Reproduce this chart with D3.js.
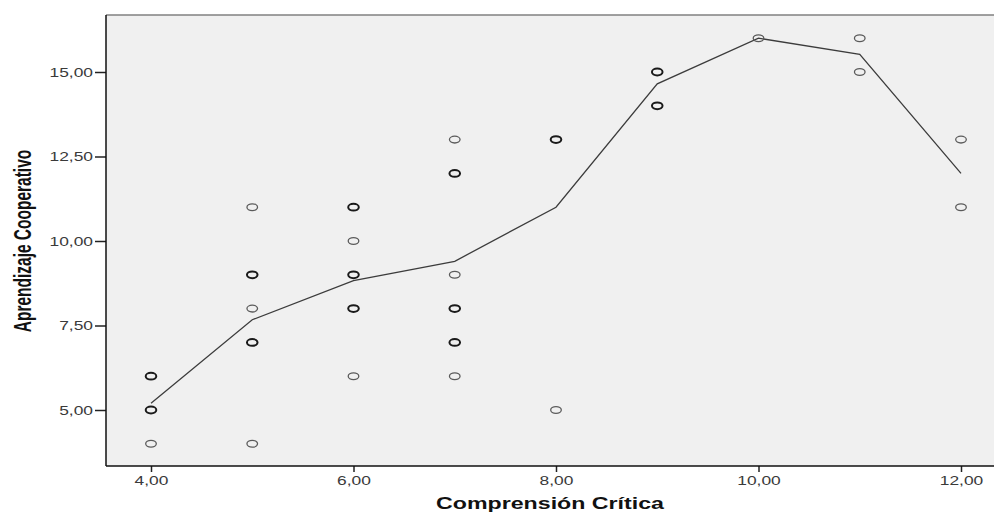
<!DOCTYPE html>
<html>
<head>
<meta charset="utf-8">
<script src="https://cdn.jsdelivr.net/npm/d3@7"></script>
<style>
  body { margin: 0; background: #fff; }
  svg { display: block; }
</style>
</head>
<body>
<svg width="994" height="514"></svg>
<script>
// scatter points (Comprensión Crítica, Aprendizaje Cooperativo, number of cases)
const pointX = [4, 4, 4, 5, 5, 5, 5, 5, 6, 6, 6, 6, 6, 7, 7, 7, 7, 7, 7, 8, 8, 9, 9, 10, 11, 11, 12, 12];
const pointY = [6, 5, 4, 11, 9, 8, 7, 4, 11, 10, 9, 8, 6, 13, 12, 9, 8, 7, 6, 13, 5, 15, 14, 16, 16, 15, 13, 11];
const pointN = [2, 2, 1, 1, 2, 1, 2, 1, 2, 1, 2, 2, 1, 1, 2, 1, 2, 2, 1, 2, 1, 2, 2, 1, 1, 1, 1, 1];

// fit line (mean per x value)
const lineX = [4, 5, 6, 7, 8, 9, 10, 11, 12];
const lineY = [5.2, 7.67, 8.83, 9.4, 11.0, 14.65, 16.0, 15.52, 12.0];

const xTicks = [4, 6, 8, 10, 12];
const yTicks = [5, 7.5, 10, 12.5, 15];

const points = pointX.map((x, i) => ({ x: x, y: pointY[i], n: pointN[i] }));
const linePts = lineX.map((x, i) => ({ x: x, y: lineY[i] }));

const canvas = d3.select("svg");

const plotLeft = 106;
const plotTop = 15;
const plotBottom = 466;
const plotRight = 1000;
const stretch = 1.45;

const xScale = d3.scaleLinear().domain([4, 12]).range([151, 961]);
const yScale = d3.scaleLinear().domain([5, 15]).range([410, 72]);

const fmt = (d) => d3.format(".2f")(d).replace(".", ",");

// plot background
canvas
  .append("rect")
  .attr("x", plotLeft)
  .attr("y", plotTop)
  .attr("width", plotRight - plotLeft)
  .attr("height", plotBottom - plotTop)
  .attr("fill", "#f0f0f0");

// top border
canvas
  .append("line")
  .attr("x1", plotLeft)
  .attr("x2", plotRight)
  .attr("y1", plotTop)
  .attr("y2", plotTop)
  .attr("stroke", "#808080")
  .attr("stroke-width", 1.5);

// axes
const xAxis = d3.axisBottom(xScale).tickValues(xTicks).tickFormat(fmt).tickSize(6).tickSizeOuter(0);
const yAxis = d3.axisLeft(yScale).tickValues(yTicks).tickFormat(fmt).tickSize(11).tickSizeOuter(0);

const gx = canvas
  .append("g")
  .attr("transform", `translate(0, ${plotBottom})`)
  .call(xAxis);

const gy = canvas
  .append("g")
  .attr("transform", `translate(${plotLeft}, 0)`)
  .call(yAxis);

gx.select(".domain").remove();
gy.select(".domain").remove();

canvas
  .append("line")
  .attr("x1", plotLeft)
  .attr("x2", plotRight)
  .attr("y1", plotBottom)
  .attr("y2", plotBottom)
  .attr("stroke", "#111")
  .attr("stroke-width", 1.5);

canvas
  .append("line")
  .attr("x1", plotLeft)
  .attr("x2", plotLeft)
  .attr("y1", plotTop)
  .attr("y2", plotBottom)
  .attr("stroke", "#111")
  .attr("stroke-width", 1.5);

gx.selectAll(".tick line").attr("stroke", "#222").attr("stroke-width", 1.5);
gy.selectAll(".tick line").attr("stroke", "#222").attr("stroke-width", 1.5);

gx.selectAll(".tick text")
  .attr("y", 0)
  .attr("dy", 0)
  .attr("transform", `translate(0, 18.5) scale(${stretch}, 1)`)
  .attr("font-family", "'Liberation Sans', Arial, sans-serif")
  .attr("font-size", 12)
  .attr("fill", "#3a3a3a");

gy.selectAll(".tick text")
  .attr("x", 0)
  .attr("dy", "0.36em")
  .attr("transform", `translate(-13, 0) scale(${stretch}, 1)`)
  .attr("font-family", "'Liberation Sans', Arial, sans-serif")
  .attr("font-size", 12)
  .attr("fill", "#3a3a3a");

// fit line
const line = d3
  .line()
  .x((d) => xScale(d.x))
  .y((d) => yScale(d.y));

canvas
  .append("path")
  .datum(linePts)
  .attr("d", line)
  .attr("fill", "none")
  .attr("stroke", "#3c3c3c")
  .attr("stroke-width", 1.3);

// points
canvas
  .append("g")
  .selectAll("ellipse")
  .data(points)
  .join("ellipse")
  .attr("cx", (d) => xScale(d.x))
  .attr("cy", (d) => yScale(d.y))
  .attr("rx", 5.3)
  .attr("ry", 3.4)
  .attr("fill", "none")
  .attr("stroke", (d) => (d.n > 1 ? "#1a1a1a" : "#5a5a5a"))
  .attr("stroke-width", (d) => (d.n > 1 ? 2 : 1.3));

// axis titles
canvas
  .append("text")
  .text("Comprensión Crítica")
  .attr("transform", `translate(550, 509) scale(${stretch}, 1)`)
  .attr("text-anchor", "middle")
  .attr("font-family", "'Liberation Sans', Arial, sans-serif")
  .attr("font-weight", "bold")
  .attr("font-size", 16)
  .attr("fill", "#111");

canvas
  .append("text")
  .text("Aprendizaje Cooperativo")
  .attr("transform", `translate(31, 241) scale(1.55, 1) rotate(-90)`)
  .attr("text-anchor", "middle")
  .attr("font-family", "'Liberation Sans', Arial, sans-serif")
  .attr("font-weight", "bold")
  .attr("font-size", 15.5)
  .attr("fill", "#111");
</script>
</body>
</html>
